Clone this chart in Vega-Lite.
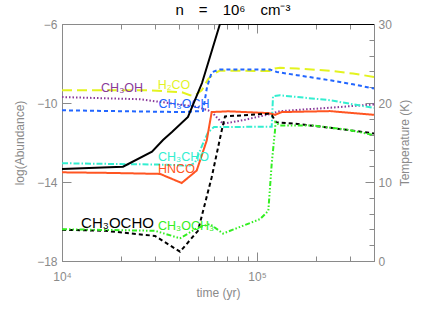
{
  "$schema": "https://vega.github.io/schema/vega-lite/v6.json",
  "width": 312,
  "height": 237,
  "autosize": {"type": "none"},
  "padding": {"left": 62, "top": 24, "right": 70, "bottom": 50},
  "background": "white",
  "title": {"text": "n\u2003=\u200310⁶\u2003cm⁻³", "font": "Liberation Sans", "fontSize": 15, "fontWeight": "normal", "color": "black", "offset": 0, "dx": 15, "anchor": "middle"},
  "config": {
    "view": {"stroke": "#8a8a8a", "strokeWidth": 1},
    "axis": {"domainColor": "#8a8a8a", "tickColor": "#8a8a8a", "labelColor": "#8a8a8a", "titleColor": "#8a8a8a", "labelFont": "Liberation Sans", "titleFont": "Liberation Sans", "labelFontSize": 12, "titleFontSize": 12, "titleFontWeight": "normal", "grid": false}
  },
  "datasets": {
    "abund": [
      {"t": 10000, "v": -9.36, "s": "H2CO"}, {"t": 28270, "v": -9.36, "s": "H2CO"}, {"t": 41250, "v": -9.46, "s": "H2CO"}, {"t": 45330, "v": -9.61, "s": "H2CO"}, {"t": 48100, "v": -9.61, "s": "H2CO"}, {"t": 52050, "v": -9.36, "s": "H2CO"}, {"t": 56070, "v": -8.8, "s": "H2CO"}, {"t": 57410, "v": -8.69, "s": "H2CO"}, {"t": 60890, "v": -8.49, "s": "H2CO"}, {"t": 64600, "v": -8.36, "s": "H2CO"}, {"t": 116600, "v": -8.38, "s": "H2CO"}, {"t": 123700, "v": -8.25, "s": "H2CO"}, {"t": 131200, "v": -8.22, "s": "H2CO"}, {"t": 160400, "v": -8.25, "s": "H2CO"}, {"t": 236800, "v": -8.37, "s": "H2CO"}, {"t": 310700, "v": -8.51, "s": "H2CO"}, {"t": 398100, "v": -8.68, "s": "H2CO"},
      {"t": 10000, "v": -9.7, "s": "CH3OH"}, {"t": 25120, "v": -9.81, "s": "CH3OH"}, {"t": 37090, "v": -10.03, "s": "CH3OH"}, {"t": 49250, "v": -10.2, "s": "CH3OH"}, {"t": 56070, "v": -10.37, "s": "CH3OH"}, {"t": 58570, "v": -10.46, "s": "CH3OH"}, {"t": 66930, "v": -11.05, "s": "CH3OH"}, {"t": 86800, "v": -10.85, "s": "CH3OH"}, {"t": 114300, "v": -10.58, "s": "CH3OH"}, {"t": 131200, "v": -10.41, "s": "CH3OH"}, {"t": 236800, "v": -10.24, "s": "CH3OH"}, {"t": 398100, "v": -10.07, "s": "CH3OH"},
      {"t": 10000, "v": -10.37, "s": "blue"}, {"t": 41250, "v": -10.46, "s": "blue"}, {"t": 52880, "v": -10.4, "s": "blue"}, {"t": 55410, "v": -9.2, "s": "blue"}, {"t": 58570, "v": -8.44, "s": "blue"}, {"t": 64600, "v": -8.3, "s": "blue"}, {"t": 116600, "v": -8.31, "s": "blue"}, {"t": 126600, "v": -8.43, "s": "blue"}, {"t": 160400, "v": -8.59, "s": "blue"}, {"t": 236800, "v": -8.85, "s": "blue"}, {"t": 310700, "v": -9.05, "s": "blue"}, {"t": 398100, "v": -9.27, "s": "blue"},
      {"t": 10000, "v": -13.05, "s": "CH3CHO"}, {"t": 31820, "v": -13.12, "s": "CH3CHO"}, {"t": 45330, "v": -13.17, "s": "CH3CHO"}, {"t": 48100, "v": -13.02, "s": "CH3CHO"}, {"t": 52880, "v": -12.05, "s": "CH3CHO"}, {"t": 56070, "v": -11.49, "s": "CH3CHO"}, {"t": 60190, "v": -11.22, "s": "CH3CHO"}, {"t": 118950, "v": -11.2, "s": "CH3CHO"}, {"t": 120800, "v": -9.66, "s": "CH3CHO"}, {"t": 131200, "v": -9.61, "s": "CH3CHO"}, {"t": 236800, "v": -9.86, "s": "CH3CHO"}, {"t": 398100, "v": -10.25, "s": "CH3CHO"},
      {"t": 10000, "v": -13.51, "s": "HNCO"}, {"t": 17630, "v": -13.54, "s": "HNCO"}, {"t": 31820, "v": -13.59, "s": "HNCO"}, {"t": 41100, "v": -14.05, "s": "HNCO"}, {"t": 49070, "v": -13.42, "s": "HNCO"}, {"t": 55220, "v": -11.9, "s": "HNCO"}, {"t": 58570, "v": -10.46, "s": "HNCO"}, {"t": 71020, "v": -10.42, "s": "HNCO"}, {"t": 113900, "v": -10.51, "s": "HNCO"}, {"t": 123700, "v": -10.6, "s": "HNCO"}, {"t": 133900, "v": -10.46, "s": "HNCO"}, {"t": 236800, "v": -10.41, "s": "HNCO"}, {"t": 398100, "v": -10.6, "s": "HNCO"},
      {"t": 10000, "v": -16.42, "s": "CH3OCHO"}, {"t": 16620, "v": -16.47, "s": "CH3OCHO"}, {"t": 29990, "v": -16.73, "s": "CH3OCHO"}, {"t": 40290, "v": -17.53, "s": "CH3OCHO"}, {"t": 49820, "v": -16.47, "s": "CH3OCHO"}, {"t": 58570, "v": -13.76, "s": "CH3OCHO"}, {"t": 65920, "v": -11.39, "s": "CH3OCHO"}, {"t": 68550, "v": -10.68, "s": "CH3OCHO"}, {"t": 114300, "v": -10.54, "s": "CH3OCHO"}, {"t": 119400, "v": -10.63, "s": "CH3OCHO"}, {"t": 125130, "v": -10.97, "s": "CH3OCHO"}, {"t": 156600, "v": -11.05, "s": "CH3OCHO"}, {"t": 236800, "v": -11.25, "s": "CH3OCHO"}, {"t": 398100, "v": -11.54, "s": "CH3OCHO"},
      {"t": 10000, "v": -16.39, "s": "CH3OCH3"}, {"t": 29990, "v": -16.47, "s": "CH3OCH3"}, {"t": 40290, "v": -16.85, "s": "CH3OCH3"}, {"t": 49820, "v": -16.31, "s": "CH3OCH3"}, {"t": 57410, "v": -16.13, "s": "CH3OCH3"}, {"t": 66930, "v": -16.61, "s": "CH3OCH3"}, {"t": 103600, "v": -15.88, "s": "CH3OCH3"}, {"t": 114300, "v": -15.46, "s": "CH3OCH3"}, {"t": 118950, "v": -13.08, "s": "CH3OCH3"}, {"t": 123700, "v": -11.39, "s": "CH3OCH3"}, {"t": 124400, "v": -10.97, "s": "CH3OCH3"}, {"t": 131200, "v": -11.14, "s": "CH3OCH3"}, {"t": 193700, "v": -11.14, "s": "CH3OCH3"}, {"t": 289400, "v": -11.35, "s": "CH3OCH3"}, {"t": 398100, "v": -11.62, "s": "CH3OCH3"}
    ],
    "temp": [
      {"t": 10000, "T": 11.65}, {"t": 20550, "T": 11.94}, {"t": 28940, "T": 13.84}, {"t": 32960, "T": 15.32}, {"t": 36640, "T": 16.33}, {"t": 44260, "T": 18.23}, {"t": 52240, "T": 22.53}, {"t": 56750, "T": 25.44}, {"t": 64570, "T": 30}, {"t": 398100, "T": 30}
    ],
    "labels": [
      {"t": 20320, "v": -9.25, "s": "CH3OH", "label": "CH₃OH"},
      {"t": 37530, "v": -9.1, "s": "H2CO", "label": "H₂CO"},
      {"t": 42230, "v": -10.07, "s": "blue", "label": "CH₃OCH"},
      {"t": 41980, "v": -12.72, "s": "CH3CHO", "label": "CH₃CHO"},
      {"t": 38640, "v": -13.36, "s": "HNCO", "label": "HNCO"},
      {"t": 19260, "v": -16.07, "s": "CH3OCHO", "label": "CH₃OCHO"},
      {"t": 43250, "v": -16.22, "s": "CH3OCH3", "label": "CH₃OCH₃"}
    ]
  },
  "layer": [
    {
      "layer": [
        {
          "data": {"name": "abund"},
          "mark": {"type": "line", "strokeWidth": 2, "clip": true},
          "encoding": {
            "x": {"field": "t", "type": "quantitative", "scale": {"type": "log", "domain": [10000, 398107], "nice": false},
              "axis": {"orient": "bottom", "title": "time (yr)", "values": [10000, 20000, 30000, 40000, 50000, 60000, 70000, 80000, 90000, 100000, 200000, 300000],
                "labelExpr": "datum.value == 10000 ? '10⁴' : datum.value == 100000 ? '10⁵' : ''",
                "tickSize": {"condition": {"test": "datum.value == 10000 || datum.value == 100000", "value": -9}, "value": -5},
                "labelPadding": 19, "titlePadding": 5, "labelFlush": false}},
            "y": {"field": "v", "type": "quantitative", "scale": {"domain": [-18, -6], "nice": false, "zero": false},
              "axis": {"orient": "left", "title": "log(Abundance)", "values": [-18, -17.5, -17, -16.5, -16, -15.5, -15, -14.5, -14, -13.5, -13, -12.5, -12, -11.5, -11, -10.5, -10, -9.5, -9, -8.5, -8, -7.5, -7, -6.5, -6],
                "labelExpr": "datum.value % 2 == 0 ? format(datum.value, 'd') : ''",
                "tickSize": {"condition": {"test": "datum.value % 2 == 0", "value": -9}, "value": -5},
                "labelPadding": 14, "titlePadding": 10, "labelFlush": false}},
            "color": {"field": "s", "type": "nominal", "legend": null,
              "scale": {"domain": ["H2CO", "CH3OH", "blue", "CH3CHO", "HNCO", "CH3OCHO", "CH3OCH3"], "range": ["#e3f31f", "#8a3a9a", "#2266ff", "#33eed0", "#ff5522", "#000000", "#33ee22"]}},
            "strokeDash": {"field": "s", "type": "nominal", "legend": null,
              "scale": {"domain": ["H2CO", "CH3OH", "blue", "CH3CHO", "HNCO", "CH3OCHO", "CH3OCH3"], "range": [[10, 5], [1.5, 2], [4, 3], [6, 2, 1.5, 2], [1, 0], [4, 3], [5, 2, 1.5, 2, 1.5, 2, 1.5, 2]]}},
            "order": {"field": "t", "type": "quantitative"}
          }
        },
        {
          "data": {"name": "labels"},
          "transform": [{"filter": "datum.s != 'CH3OCHO'"}],
          "mark": {"type": "text", "font": "Liberation Sans", "fontSize": 12.5, "align": "center", "baseline": "middle"},
          "encoding": {
            "x": {"field": "t", "type": "quantitative"},
            "y": {"field": "v", "type": "quantitative"},
            "text": {"field": "label"},
            "color": {"field": "s", "type": "nominal", "legend": null}
          }
        },
        {
          "data": {"name": "labels"},
          "transform": [{"filter": "datum.s == 'CH3OCHO'"}],
          "mark": {"type": "text", "font": "Liberation Sans", "fontSize": 15, "align": "center", "baseline": "middle"},
          "encoding": {
            "x": {"field": "t", "type": "quantitative"},
            "y": {"field": "v", "type": "quantitative"},
            "text": {"field": "label"},
            "color": {"field": "s", "type": "nominal", "legend": null}
          }
        }
      ]
    },
    {
      "data": {"name": "temp"},
      "mark": {"type": "line", "strokeWidth": 2, "color": "black", "clip": true},
      "encoding": {
        "x": {"field": "t", "type": "quantitative", "scale": {"type": "log", "domain": [10000, 398107], "nice": false},
          "axis": {"orient": "top", "title": null, "labels": false, "domain": false, "minExtent": 0, "maxExtent": 0, "values": [10000, 20000, 30000, 40000, 50000, 60000, 70000, 80000, 90000, 100000, 200000, 300000],
            "tickSize": {"condition": {"test": "datum.value == 10000 || datum.value == 100000", "value": -9}, "value": -5}}},
        "y": {"field": "T", "type": "quantitative", "scale": {"domain": [0, 30], "nice": false},
          "axis": {"orient": "right", "title": "Temperature (K)", "titleAngle": 270, "values": [0, 2, 4, 6, 8, 10, 12, 14, 16, 18, 20, 22, 24, 26, 28, 30],
            "labelExpr": "datum.value % 10 == 0 ? format(datum.value, 'd') : ''",
            "tickSize": {"condition": {"test": "datum.value % 10 == 0", "value": -9}, "value": -5},
            "labelPadding": 13, "titlePadding": 20, "labelFlush": false}}
      }
    }
  ],
  "resolve": {"scale": {"y": "independent"}, "axis": {"x": "independent"}}
}
